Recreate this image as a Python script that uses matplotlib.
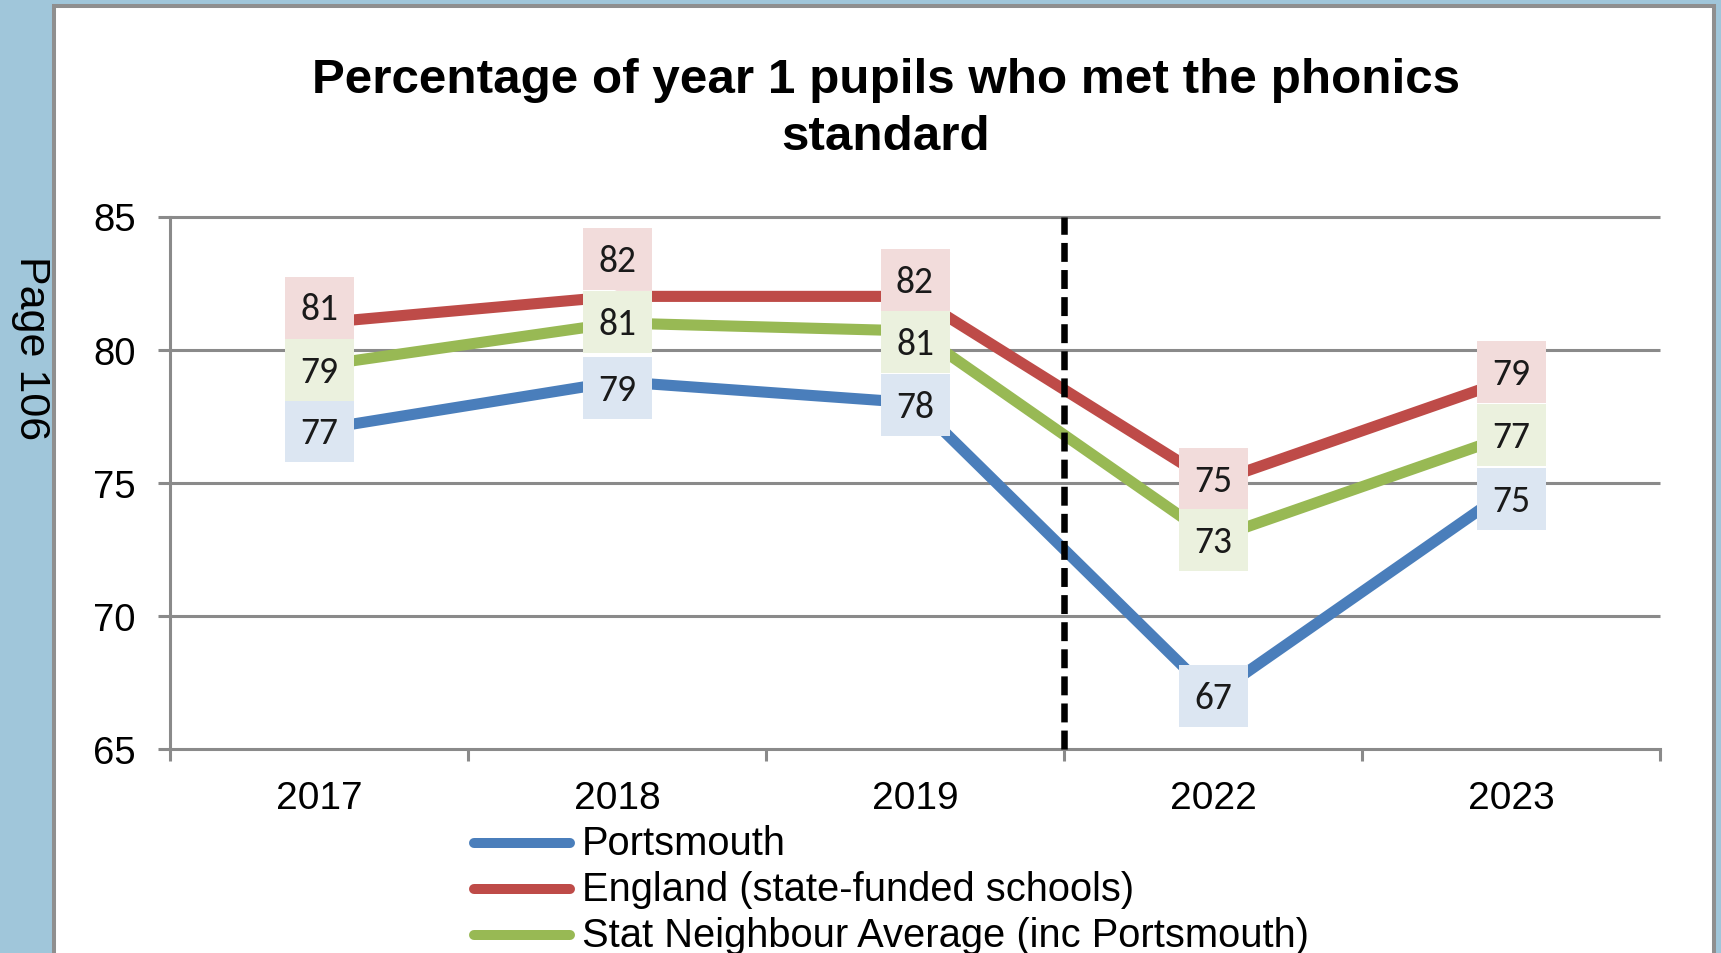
import numpy as np
import matplotlib
matplotlib.use("Agg")
import matplotlib.pyplot as plt
from matplotlib import font_manager
from matplotlib.patches import Rectangle
from matplotlib.lines import Line2D

# ---- data -------------------------------------------------------------
years = ["2017", "2018", "2019", "2022", "2023"]
portsmouth = [77.0, 78.8, 78.0, 67.0, 74.8]
england = [81.0, 82.0, 82.0, 75.0, 78.9]
stat_neighbours = [79.4, 81.0, 80.7, 72.9, 76.8]
series_names = ["Portsmouth",
                "England (state-funded schools)",
                "Stat Neighbour Average (inc Portsmouth)"]
y_ticks = [65, 70, 75, 80, 85]
title = "Percentage of year 1 pupils who met the phonics\nstandard"
page_label = "Page 106"

# ---- styling ----------------------------------------------------------
W, H = 1721, 954
BG = "#A0C6DA"
GRID = "#8A8A8A"
line_colors = ["#4A7EBB", "#BE4B48", "#98B954"]
box_colors = ["#DCE6F2", "#F2DCDB", "#EBF1DE"]
# vertical nudge of each value box, in pixels (positive = downwards)
box_shift = [
    [1, 6, 2, 0, 11],          # Portsmouth
    [-15.5, -37, -16, -4, -7],  # England
    [4, -1, 11.5, 1, 0],       # Stat neighbours
]
BOX_W, BOX_H = 69, 62

available = {f.name for f in font_manager.fontManager.ttflist}


def pick(*names):
    for n in names:
        if n in available:
            return n
    return "DejaVu Sans"


SANS = pick("Liberation Sans", "Arial")
NARROW = pick("Liberation Sans Narrow", "Arial Narrow")
LABEL_FONT = pick("Carlito", "Calibri", "Lato", "Open Sans")
legend_size = 33 if NARROW != "DejaVu Sans" else 28.7
if NARROW == "DejaVu Sans":
    NARROW = SANS


def fx(px):
    return px / W


def fy(py):
    return 1 - py / H


fig = plt.figure(figsize=(W / 100, H / 100), dpi=100, facecolor=BG)

# white page panel with a grey frame
panel = Rectangle((fx(54), fy(975)), fx(1714) - fx(54), fy(7) - fy(975),
                  transform=fig.transFigure, facecolor="white",
                  edgecolor="#8F8F8F", lw=2.9, clip_on=False, zorder=-10)
fig.add_artist(panel)

fig.text(fx(31), fy(348), page_label, rotation=270, ha="center", va="center",
         fontsize=31, family=SANS, color="black")

fig.text(fx(886), fy(58), title, ha="center", va="top", fontsize=35.6,
         fontweight="bold", family=SANS, linespacing=1.33, color="black")

ax = fig.add_axes([fx(170), fy(750), fx(1660) - fx(170), fy(217.5) - fy(750)])
ax.set_facecolor("none")
n = len(years)
x = np.arange(n)
ax.set_xlim(-0.5, n - 0.5)
ax.set_ylim(y_ticks[0], y_ticks[-1])

# horizontal gridlines
ax.hlines(y_ticks[1:], -0.5, n - 0.5, colors=GRID, lw=2.2, zorder=1,
          clip_on=False)

for spine in ("top", "right"):
    ax.spines[spine].set_visible(False)
for spine in ("left", "bottom"):
    ax.spines[spine].set_color(GRID)
    ax.spines[spine].set_linewidth(2.2)

ax.set_yticks(y_ticks)
ax.set_yticklabels([str(t) for t in y_ticks], family=SANS)
ax.tick_params(axis="y", direction="out", length=8.6, width=2.2, color=GRID,
               pad=16, labelsize=27.5, labelcolor="black")
ax.set_xticks(x)
ax.set_xticklabels(years, family=SANS)
ax.tick_params(axis="x", which="major", length=0, pad=22, labelsize=28,
               labelcolor="black")
ax.set_xticks(np.arange(-0.5, n, 1.0), minor=True)
ax.tick_params(axis="x", which="minor", direction="out", length=8.6,
               width=2.2, color=GRID)

all_series = [portsmouth, england, stat_neighbours]
for vals, color, name in zip(all_series, line_colors, series_names):
    ax.plot(x, vals, color=color, lw=8, solid_capstyle="round",
            solid_joinstyle="round", zorder=3, clip_on=False, label=name)

# break in the series between pre- and post-pandemic years
gap_x = years.index("2019") + 0.5
ax.plot([gap_x, gap_x], [y_ticks[0], y_ticks[-1]], color="black", lw=4.7,
        dashes=(2.9, 1.25), zorder=4, clip_on=False)

# value boxes drawn on top of the lines
for vals, bcol, shifts in zip(all_series, box_colors, box_shift):
    for i, v in enumerate(vals):
        cx, cy = ax.transData.transform((i, v))
        cy -= shifts[i]
        rect = Rectangle(((cx - BOX_W / 2) / W, (cy - BOX_H / 2) / H),
                         BOX_W / W, BOX_H / H, transform=fig.transFigure,
                         facecolor=bcol, edgecolor="none", zorder=5)
        fig.add_artist(rect)
        fig.text(cx / W, cy / H - 1.5 / H, f"{v:.0f}", ha="center",
                 va="center", fontsize=27, family=LABEL_FONT,
                 color="#1A1A1A", zorder=6)

# legend below the axis
for k, (name, color) in enumerate(zip(series_names, line_colors)):
    yy = 844 + 46 * k
    fig.add_artist(Line2D([fx(474), fx(570)], [fy(yy), fy(yy)],
                          transform=fig.transFigure, color=color, lw=7.2,
                          solid_capstyle="round"))
    fig.text(fx(582), fy(yy), name, ha="left", va="center",
             fontsize=legend_size, family=NARROW, color="black")

fig.savefig("out.png", dpi=100, facecolor=BG)
